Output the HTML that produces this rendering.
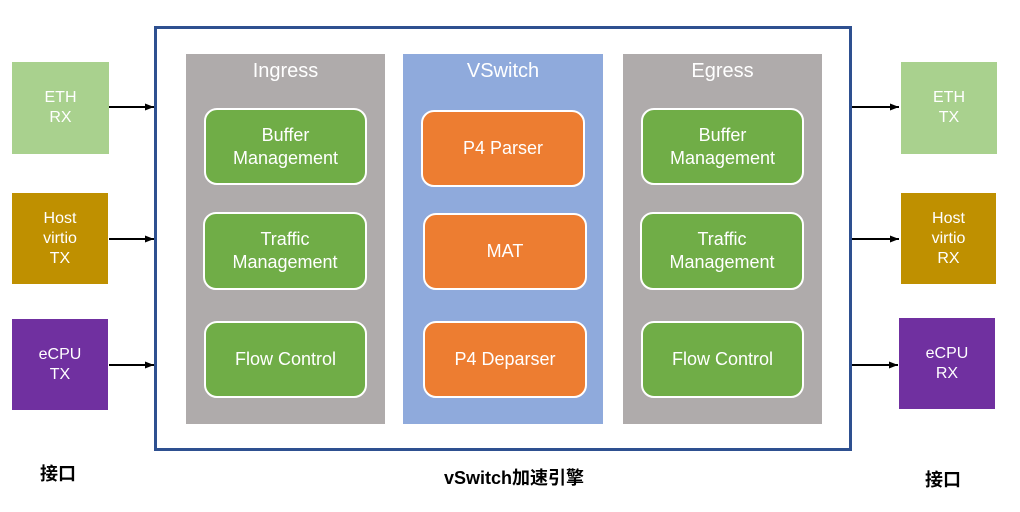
<!DOCTYPE html>
<html><head><meta charset="utf-8"><style>
body{margin:0;width:1020px;height:512px;background:#fff;position:relative;overflow:hidden;font-family:"Liberation Sans","Noto Sans CJK SC",sans-serif}
.a{position:absolute;box-sizing:border-box}
.sq{display:flex;align-items:center;justify-content:center;text-align:center;color:#fff;font-size:16px;line-height:20px}
.col{color:#fff;font-size:20px;text-align:center;padding-top:6px}
.rb{border:2px solid #fff;border-radius:13px;display:flex;align-items:center;justify-content:center;text-align:center;color:#fff;font-size:18px;line-height:23px}
.g{background:#70AD47}.o{background:#ED7D31}
.lbl{font-weight:bold;font-size:18px;color:#000}
</style></head><body>
<div class="a" style="left:154px;top:26px;width:698px;height:425px;border:3px solid #2E5090"></div>
<div class="a col" style="left:186px;top:54px;width:199px;height:370px;background:#AFABAB">Ingress</div>
<div class="a col" style="left:403px;top:54px;width:200px;height:370px;background:#8FAADC">VSwitch</div>
<div class="a col" style="left:623px;top:54px;width:199px;height:370px;background:#AFABAB">Egress</div>

<div class="a rb g" style="left:204px;top:108px;width:163px;height:77px">Buffer<br>Management</div>
<div class="a rb g" style="left:203px;top:212px;width:164px;height:78px">Traffic<br>Management</div>
<div class="a rb g" style="left:204px;top:321px;width:163px;height:77px">Flow Control</div>

<div class="a rb o" style="left:421px;top:110px;width:164px;height:77px">P4 Parser</div>
<div class="a rb o" style="left:423px;top:213px;width:164px;height:77px">MAT</div>
<div class="a rb o" style="left:423px;top:321px;width:164px;height:77px">P4 Deparser</div>

<div class="a rb g" style="left:641px;top:108px;width:163px;height:77px">Buffer<br>Management</div>
<div class="a rb g" style="left:640px;top:212px;width:164px;height:78px">Traffic<br>Management</div>
<div class="a rb g" style="left:641px;top:321px;width:163px;height:77px">Flow Control</div>

<div class="a sq" style="left:12px;top:62px;width:97px;height:92px;background:#A9D18E">ETH<br>RX</div>
<div class="a sq" style="left:12px;top:193px;width:96px;height:91px;background:#BF9000">Host<br>virtio<br>TX</div>
<div class="a sq" style="left:12px;top:319px;width:96px;height:91px;background:#7030A0">eCPU<br>TX</div>
<div class="a sq" style="left:901px;top:62px;width:96px;height:92px;background:#A9D18E">ETH<br>TX</div>
<div class="a sq" style="left:901px;top:193px;width:95px;height:91px;background:#BF9000">Host<br>virtio<br>RX</div>
<div class="a sq" style="left:899px;top:318px;width:96px;height:91px;background:#7030A0">eCPU<br>RX</div>

<svg class="a" style="left:0;top:0" width="1020" height="512">
<defs><marker id="m" markerWidth="10" markerHeight="10" refX="9" refY="5" orient="auto" markerUnits="userSpaceOnUse"><path d="M0,1.5 L9,5 L0,8.5z" fill="#000"/></marker></defs>
<g stroke="#000" stroke-width="2" marker-end="url(#m)">
<line x1="109" y1="107" x2="154" y2="107"/>
<line x1="109" y1="239" x2="154" y2="239"/>
<line x1="109" y1="365" x2="154" y2="365"/>
<line x1="852" y1="107" x2="899" y2="107"/>
<line x1="852" y1="239" x2="899" y2="239"/>
<line x1="852" y1="365" x2="898" y2="365"/>
</g></svg>

<div class="a lbl" style="left:40px;top:460px">接口</div>
<div class="a lbl" style="left:444px;top:464px">vSwitch加速引擎</div>
<div class="a lbl" style="left:925px;top:466px">接口</div>
</body></html>
